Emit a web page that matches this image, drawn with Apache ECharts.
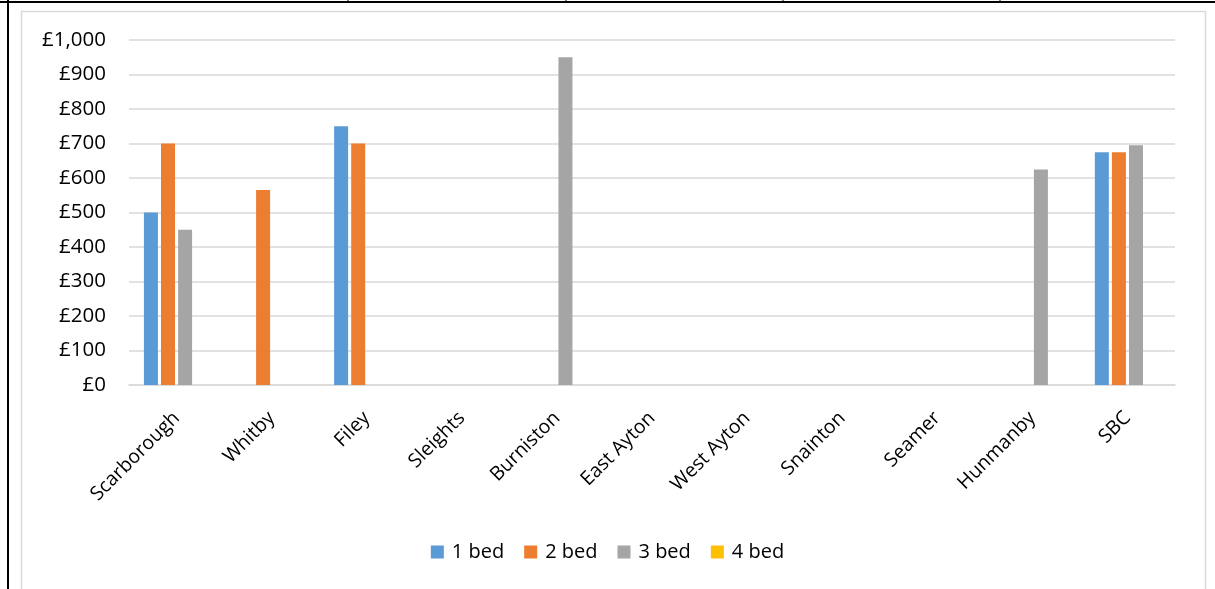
<!DOCTYPE html>
<html lang="en">
<head>
    <meta charset="UTF-8">
    <title>Rent by area</title>
    <script src="https://cdn.jsdelivr.net/npm/echarts@6.0.0/dist/echarts.min.js"></script>
    <style>
        html, body { margin: 0; padding: 0; background: #fff; }
        #chart { width: 1215px; height: 589px; }
    </style>
</head>
<body>
<div id="chart"></div>
<script>
    // data
    var areas = ['Scarborough', 'Whitby', 'Filey', 'Sleights', 'Burniston', 'East Ayton',
        'West Ayton', 'Snainton', 'Seamer', 'Hunmanby', 'SBC'];
    var bed1 = [500, null, 750, null, null, null, null, null, null, null, 675];
    var bed2 = [700, 565, 700, null, null, null, null, null, null, null, 675];
    var bed3 = [450, null, null, null, 950, null, null, null, null, 625, 695];
    var bed4 = [null, null, null, null, null, null, null, null, null, null, null];
    var seriesNames = ['1 bed', '2 bed', '3 bed', '4 bed'];
    var colors = ['#5b9bd5', '#ed7d31', '#a5a5a5', '#ffc000'];

    var font = 'Open Sans';
    var chart = echarts.init(document.getElementById('chart'));

    var allData = [bed1, bed2, bed3, bed4];
    var series = allData.map(function (d, i) {
        return {
            name: seriesNames[i],
            type: 'bar',
            data: d,
            barWidth: 14,
            barGap: '22%',
            itemStyle: {color: colors[i]}
        };
    });

    var option = {
        animation: false,
        color: colors,
        grid: {left: 129, right: 40, top: 40, bottom: 204, containLabel: false},
        legend: {
            top: 537,
            left: 'center',
            itemWidth: 13,
            itemHeight: 13,
            itemGap: 20,
            icon: 'rect',
            textStyle: {fontFamily: font, fontSize: 20, color: '#000', padding: [0, 0, 0, 3]},
            data: seriesNames
        },
        xAxis: {
            type: 'category',
            data: areas,
            axisLine: {lineStyle: {color: '#d9d9d9', width: 1.5}},
            axisTick: {show: false},
            axisLabel: {
                rotate: 45,
                interval: 0,
                margin: 30,
                fontFamily: font,
                fontSize: 19.5,
                color: '#000'
            }
        },
        yAxis: {
            type: 'value',
            min: 0,
            max: 1000,
            interval: 100,
            axisLine: {show: false},
            axisTick: {show: false},
            splitLine: {lineStyle: {color: '#d9d9d9', width: 1.5}},
            axisLabel: {
                margin: 23,
                fontFamily: font,
                fontSize: 20.5,
                color: '#000',
                formatter: function (v) {
                    return '£' + v.toLocaleString('en-GB');
                }
            }
        },
        series: series,
        graphic: [
            // chart frame
            {type: 'rect', shape: {x: 21.5, y: 11.5, width: 1184, height: 590},
                style: {fill: null, stroke: '#d9d9d9', lineWidth: 1.5}, silent: true},
            // surrounding table lines
            {type: 'line', shape: {x1: 0, y1: 2, x2: 1215, y2: 2}, style: {stroke: '#000', lineWidth: 2}},
            {type: 'line', shape: {x1: 8, y1: 0, x2: 8, y2: 589}, style: {stroke: '#000', lineWidth: 2}},
            {type: 'line', shape: {x1: 348, y1: 0, x2: 348, y2: 3}, style: {stroke: '#000', lineWidth: 1}},
            {type: 'line', shape: {x1: 566, y1: 0, x2: 566, y2: 3}, style: {stroke: '#000', lineWidth: 1}},
            {type: 'line', shape: {x1: 783, y1: 0, x2: 783, y2: 3}, style: {stroke: '#000', lineWidth: 1}},
            {type: 'line', shape: {x1: 1000, y1: 0, x2: 1000, y2: 3}, style: {stroke: '#000', lineWidth: 1}}
        ]
    };

    chart.setOption(option);
</script>
</body>
</html>
